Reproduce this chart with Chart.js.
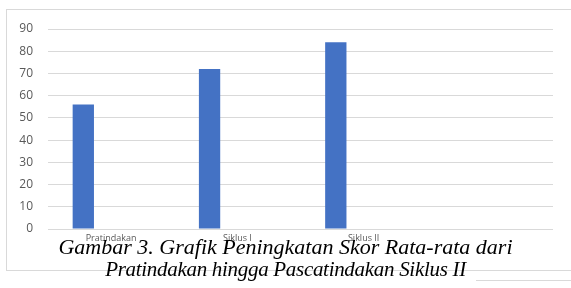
<!DOCTYPE html>
<html lang="id">
<head>
    <meta charset="UTF-8">
    <title>Grafik Skor</title>
    <style>
        body {
            margin: 0;
            padding: 0;
            background: #fff;
            font-family: "Open Sans", Arial, sans-serif;
        }
        #wrap {
            position: relative;
            width: 571px;
            height: 288px;
            overflow: hidden;
        }
        #frame {
            position: absolute;
            left: 6px;
            top: 9px;
            width: 600px;
            height: 260px;
            border: 1px solid #d9d9d9;
        }
        #chartBox {
            position: absolute;
            left: 0;
            top: 0;
            width: 571px;
            height: 288px;
        }
        .caption {
            position: absolute;
            left: 0;
            width: 571px;
            text-align: center;
            font-family: "Liberation Serif", "Times New Roman", serif;
            font-style: italic;
            font-size: 22px;
            color: #000;
            line-height: 23px;
            white-space: nowrap;
        }
        #cap1 { top: 235px; }
        #cap2 { top: 258px; font-size: 21px; letter-spacing: -0.3px; }
        #rule {
            position: absolute;
            left: 476px;
            top: 280px;
            width: 95px;
            border-top: 1px solid #d9d9d9;
        }
    </style>
    <script src="https://cdn.jsdelivr.net/npm/chart.js"></script>
</head>
<body>
<div id="wrap">
    <div id="frame"></div>
    <div id="chartBox"><canvas id="myChart"></canvas></div>
    <div id="rule"></div>
    <div class="caption" id="cap1">Gambar 3. Grafik Peningkatan Skor Rata-rata dari</div>
    <div class="caption" id="cap2">Pratindakan hingga Pascatindakan Siklus II</div>
</div>
<script>
    const categories = ['Pratindakan', 'Siklus I', 'Siklus II', ''];
    const skor = [56, 72, 84, null];
    // two empty series in the original chart (they only shift the bars left)
    const series2 = [null, null, null, null];
    const series3 = [null, null, null, null];
    const yTicks = [0, 10, 20, 30, 40, 50, 60, 70, 80, 90];

    const ctx = document.getElementById('myChart').getContext('2d');
    new Chart(ctx, {
        type: 'bar',
        data: {
            labels: categories,
            datasets: [
                { label: 'Series1', data: skor, backgroundColor: '#4472c4' },
                { label: 'Series2', data: series2, backgroundColor: '#ed7d31' },
                { label: 'Series3', data: series3, backgroundColor: '#a5a5a5' }
            ]
        },
        options: {
            responsive: true,
            maintainAspectRatio: false,
            animation: false,
            categoryPercentage: 0.661,
            barPercentage: 0.766,
            layout: {
                padding: { left: 0, right: 18, top: 29, bottom: 0 }
            },
            plugins: {
                legend: { display: false },
                tooltip: { enabled: false }
            },
            scales: {
                x: {
                    grid: { display: false, drawTicks: false },
                    border: { display: false },
                    ticks: {
                        color: '#595959',
                        font: { size: 9, family: 'Open Sans' },
                        padding: 4,
                        maxRotation: 0
                    },
                    afterFit: function (scale) { scale.height = 59; }
                },
                y: {
                    min: 0,
                    max: 90,
                    afterBuildTicks: function (scale) {
                        scale.ticks = yTicks.map(v => ({ value: v }));
                    },
                    grid: { color: '#d9d9d9', lineWidth: 1, drawTicks: false },
                    border: { display: false },
                    ticks: {
                        color: '#595959',
                        font: { size: 12, family: 'Open Sans' },
                        padding: 15
                    },
                    afterFit: function (scale) { scale.width = 48; }
                }
            }
        }
    });
</script>
</body>
</html>
